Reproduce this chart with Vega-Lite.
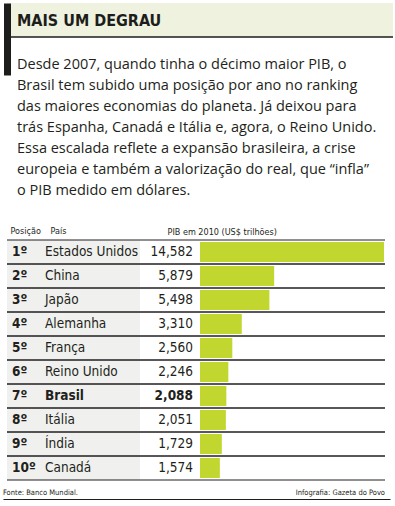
{
  "$schema": "https://vega.github.io/schema/vega-lite/v6.json",
  "padding": {"left": 3, "top": 3, "right": 0, "bottom": 0},
  "background": "white",
  "spacing": 0,
  "config": {
    "view": {"stroke": null},
    "locale": {"number": {"decimal": ",", "thousands": ".", "grouping": [3], "currency": ["US$", ""]}}
  },
  "datasets": {
    "titulo": [{"t": "MAIS UM DEGRAU"}],
    "texto": [
      {"linha": "Desde 2007, quando tinha o décimo maior PIB, o"},
      {"linha": "Brasil tem subido uma posição por ano no ranking"},
      {"linha": "das maiores economias do planeta. Já deixou para"},
      {"linha": "trás Espanha, Canadá e Itália e, agora, o Reino Unido."},
      {"linha": "Essa escalada reflete a expansão brasileira, a crise"},
      {"linha": "europeia e também a valorização do real, que “infla”"},
      {"linha": "o PIB medido em dólares."}
    ],
    "ranking": [
      {"posicao": "1º", "pais": "Estados Unidos", "valor": 14.582},
      {"posicao": "2º", "pais": "China", "valor": 5.879},
      {"posicao": "3º", "pais": "Japão", "valor": 5.498},
      {"posicao": "4º", "pais": "Alemanha", "valor": 3.310},
      {"posicao": "5º", "pais": "França", "valor": 2.560},
      {"posicao": "6º", "pais": "Reino Unido", "valor": 2.246},
      {"posicao": "7º", "pais": "Brasil", "valor": 2.088},
      {"posicao": "8º", "pais": "Itália", "valor": 2.051},
      {"posicao": "9º", "pais": "Índia", "valor": 1.729},
      {"posicao": "10º", "pais": "Canadá", "valor": 1.574}
    ],
    "notas": [
      {"nota": "Fonte: Banco Mundial.", "lado": "esq"},
      {"nota": "Infografia: Gazeta do Povo", "lado": "dir"}
    ]
  },
  "vconcat": [
    {
      "width": 386,
      "height": 223,
      "resolve": {"scale": {"y": "independent"}, "axis": {"y": "independent"}},
      "layer": [
        {
          "data": {"name": "titulo"},
          "encoding": {
            "y": {"field": "t", "type": "nominal",
              "scale": {"type": "band", "range": [0, 72], "paddingInner": 0, "paddingOuter": 0.5588, "align": 0},
              "axis": {"orient": "left", "labels": false, "ticks": false, "title": null, "grid": false,
                "domainColor": "#1d1d1b", "domainWidth": 7, "domainCap": "butt", "zindex": 1}}
          },
          "layer": [
            {"mark": {"type": "rect", "color": "#eef2df"}},
            {"mark": {"type": "rule", "color": "#1d1d1b", "strokeWidth": 1.3}, "encoding": {"y": {"field": "t", "type": "nominal", "bandPosition": 1}}},
            {
              "mark": {"type": "text", "align": "left", "baseline": "middle", "dx": 10, "dy": 1,
                "font": "DejaVu Sans Condensed", "fontSize": 16, "fontWeight": "bold", "color": "#1d1d1b"},
              "encoding": {
                "x": {"datum": 0, "type": "quantitative", "scale": {"domain": [0, 1]}, "axis": null},
                "text": {"field": "t"}
              }
            }
          ]
        },
        {
          "data": {"name": "texto"},
          "mark": {"type": "text", "align": "left", "baseline": "alphabetic", "dx": 10,
            "font": "Open Sans", "fontSize": 14.5, "color": "#231f20"},
          "encoding": {
            "x": {"datum": 0, "type": "quantitative", "scale": {"domain": [0, 1]}, "axis": null},
            "y": {"field": "linha", "type": "nominal", "sort": null, "scale": {"type": "point", "range": [66, 192], "padding": 0}, "axis": null},
            "text": {"field": "linha"}
          }
        }
      ]
    },
    {
      "spacing": 0,
      "bounds": "flush",
      "hconcat": [
        {
          "width": 133,
          "height": 240,
          "view": {"fill": "#f0f1ee", "stroke": null},
          "data": {"name": "ranking"},
          "encoding": {
            "y": {"field": "pais", "type": "nominal", "sort": null,
              "scale": {"type": "band", "paddingInner": 0, "paddingOuter": 0}, "axis": null}
          },
          "layer": [
            {"mark": {"type": "rule", "color": "#231f20", "strokeWidth": 1}, "encoding": {"y": {"field": "pais", "type": "nominal", "sort": null, "bandPosition": 0}}},
            {"mark": {"type": "rule", "color": "#231f20", "strokeWidth": 1}, "encoding": {"y": {"field": "pais", "type": "nominal", "sort": null, "bandPosition": 1}}},
            {
              "mark": {"type": "text", "align": "left", "baseline": "middle",
                "font": "DejaVu Sans Condensed", "fontSize": 13.5, "fontWeight": "bold", "color": "#231f20"},
              "encoding": {
                "x": {"datum": "Posição", "type": "nominal",
                  "scale": {"type": "point", "domain": ["Posição", "País"], "range": [5, 38], "padding": 0},
                  "axis": {"orient": "top", "domain": false, "ticks": false, "grid": false, "title": null,
                    "labelAngle": 0, "labelAlign": "left", "labelFont": "DejaVu Sans Condensed",
                    "labelFontSize": 9, "labelColor": "#231f20", "labelPadding": 5,
                    "labelOffset": {"condition": {"test": "datum.value === 'País'", "value": 5}, "value": -2}}},
                "text": {"field": "posicao"}
              }
            },
            {
              "transform": [{"filter": "datum.pais !== 'Brasil'"}],
              "mark": {"type": "text", "align": "left", "baseline": "middle",
                "font": "DejaVu Sans Condensed", "fontSize": 13.5, "color": "#231f20"},
              "encoding": {
                "x": {"datum": "País", "type": "nominal"},
                "text": {"field": "pais"}
              }
            },
            {
              "transform": [{"filter": "datum.pais === 'Brasil'"}],
              "mark": {"type": "text", "align": "left", "baseline": "middle",
                "font": "DejaVu Sans Condensed", "fontSize": 13.5, "fontWeight": "bold", "color": "#231f20"},
              "encoding": {
                "x": {"datum": "País", "type": "nominal"},
                "text": {"field": "pais"}
              }
            }
          ]
        },
        {
          "width": 245,
          "height": 240,
          "data": {"name": "ranking"},
          "encoding": {
            "y": {"field": "pais", "type": "nominal", "sort": null,
              "scale": {"type": "band", "paddingInner": 0, "paddingOuter": 0}, "axis": null}
          },
          "layer": [
            {"mark": {"type": "rule", "color": "#231f20", "strokeWidth": 1}, "encoding": {"y": {"field": "pais", "type": "nominal", "sort": null, "bandPosition": 0}}},
            {"mark": {"type": "rule", "color": "#231f20", "strokeWidth": 1}, "encoding": {"y": {"field": "pais", "type": "nominal", "sort": null, "bandPosition": 1}}},
            {
              "mark": {"type": "bar", "color": "#c1d72f", "height": {"band": 0.833}},
              "encoding": {
                "x": {"field": "valor", "type": "quantitative",
                  "scale": {"domain": [0, 14.582], "range": [60, 244], "nice": false, "zero": true},
                  "axis": {"orient": "top", "labels": false, "ticks": false, "domain": false, "grid": false,
                    "title": "PIB em 2010 (US$ trilhões)", "titleX": 27, "titleY": -6, "titleAlign": "left", "titleBaseline": "alphabetic",
                    "titleFont": "DejaVu Sans Condensed", "titleFontSize": 9,
                    "titleFontWeight": "normal", "titleColor": "#231f20"}}
              }
            },
            {
              "transform": [{"filter": "datum.pais !== 'Brasil'"}],
              "mark": {"type": "text", "align": "right", "baseline": "middle", "dx": -7,
                "font": "DejaVu Sans Condensed", "fontSize": 13.5, "color": "#231f20"},
              "encoding": {
                "x": {"datum": 0, "type": "quantitative"},
                "text": {"field": "valor", "type": "quantitative", "format": ".3f"}
              }
            },
            {
              "transform": [{"filter": "datum.pais === 'Brasil'"}],
              "mark": {"type": "text", "align": "right", "baseline": "middle", "dx": -7,
                "font": "DejaVu Sans Condensed", "fontSize": 13.5, "fontWeight": "bold", "color": "#231f20"},
              "encoding": {
                "x": {"datum": 0, "type": "quantitative"},
                "text": {"field": "valor", "type": "quantitative", "format": ".3f"}
              }
            }
          ]
        }
      ]
    },
    {
      "width": 383,
      "height": 19,
      "data": {"name": "notas"},
      "encoding": {
        "x": {"field": "lado", "type": "nominal",
          "scale": {"type": "point", "domain": ["esq", "dir"], "range": [-4, 383], "padding": 0},
          "axis": {"orient": "bottom", "labels": false, "ticks": false, "grid": false, "title": null,
            "domainColor": "#1d1d1b", "domainWidth": 3, "domainCap": "butt"}},
        "text": {"field": "nota"}
      },
      "layer": [
        {
          "transform": [{"filter": "datum.lado === 'esq'"}],
          "mark": {"type": "text", "align": "left", "baseline": "middle", "dy": 2,
            "font": "DejaVu Sans Condensed", "fontSize": 7.5, "color": "#231f20"}
        },
        {
          "transform": [{"filter": "datum.lado === 'dir'"}],
          "mark": {"type": "text", "align": "right", "baseline": "middle", "dy": 2, "dx": -5,
            "font": "DejaVu Sans Condensed", "fontSize": 7.5, "color": "#231f20"}
        }
      ]
    }
  ]
}
